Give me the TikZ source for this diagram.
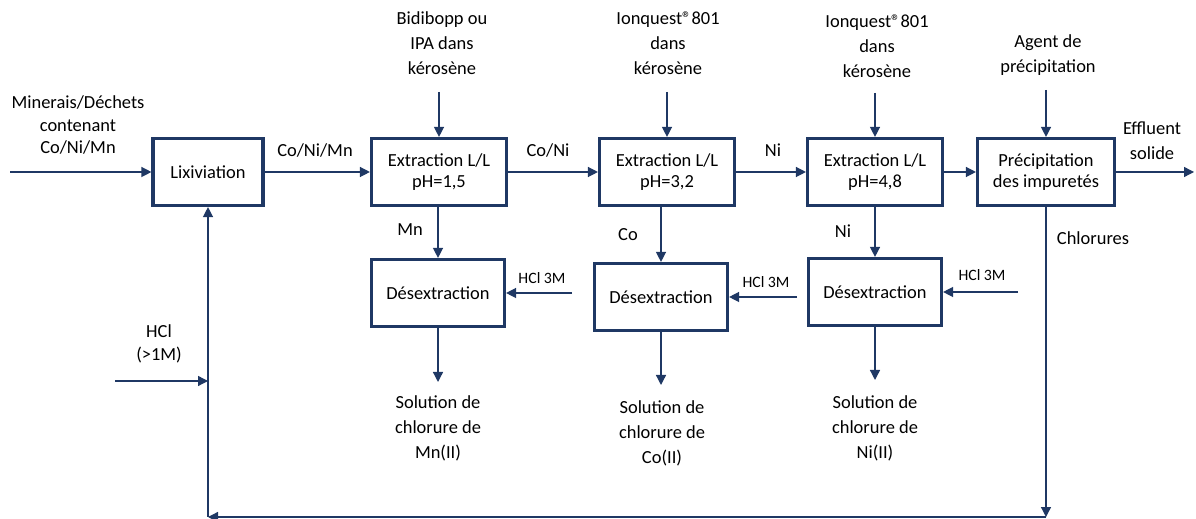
\documentclass[tikz,border=0pt]{standalone}
\usepackage{fontspec}
\setmainfont{Carlito}
\usetikzlibrary{arrows.meta}
\definecolor{navy}{RGB}{31,56,100}
\begin{document}
\begin{tikzpicture}[
  x=0.02cm, y=-0.02cm,
  box/.style={draw=navy, line width=1.8pt, align=center, minimum width=2.7cm, minimum height=1.34cm, font=\fontsize{10.5}{12}\selectfont},
  lbl/.style={align=center, inner sep=0pt, font=\fontsize{10.5}{14.2}\selectfont},
  acid/.style={inner sep=0pt, font=\fontsize{9}{11}\selectfont},
  arrow/.style={-{Triangle[length=0.2cm,width=0.2cm]}, navy, line width=0.75pt}
]
\useasboundingbox (0,0) rectangle (1196,519);

\node[box, minimum width=2.2cm] at (208,172) (lix) {Lixiviation};
\node[box] at (439,172) (ext1) {Extraction L/L\\pH=1,5};
\node[box] at (667,172) (ext2) {Extraction L/L\\pH=3,2};
\node[box] at (875,172) (ext3) {Extraction L/L\\pH=4,8};
\node[box, minimum width=2.74cm] at (1046,172) (prec) {Précipitation\\des impuretés};
\node[box, minimum width=2.66cm] at (438,293) (des1) {Désextraction};
\node[box, minimum width=2.66cm] at (661,297) (des2) {Désextraction};
\node[box, minimum width=2.66cm] at (875,292) (des3) {Désextraction};

\node[lbl, font=\fontsize{10.5}{12.8}\selectfont] at (78,125) (feedtxt) {Minerais/Déchets\\contenant\\Co/Ni/Mn};
\node[lbl] at (442,43) (org1) {Bidibopp ou\\IPA dans\\kérosène};
\node[lbl] at (668,43) (org2) {Ionquest®801\\dans\\kérosène};
\node[lbl] at (877,46) (org3) {Ionquest®801\\dans\\kérosène};
\node[lbl] at (1048,55) (agent) {Agent de\\précipitation};
\node[lbl] at (1152,141) (efftxt) {Effluent\\solide};
\node[lbl] at (1093,238) (chlor) {Chlorures};
\node[lbl] at (315,150) (f1) {Co/Ni/Mn};
\node[lbl] at (548,150) (f2) {Co/Ni};
\node[lbl] at (773,150) (f3) {Ni};
\node[lbl] at (410,230) (m1) {Mn};
\node[lbl] at (628,235) (m2) {Co};
\node[lbl] at (843,231) (m3) {Ni};
\node[acid] at (542,278) (a1) {HCl 3M};
\node[acid] at (766,282) (a2) {HCl 3M};
\node[acid] at (982,275) (a3) {HCl 3M};
\node[lbl] at (438,428) (sol1) {Solution de\\chlorure de\\Mn(II)};
\node[lbl] at (662,433) (sol2) {Solution de\\chlorure de\\Co(II)};
\node[lbl] at (875,428) (sol3) {Solution de\\chlorure de\\Ni(II)};
\node[lbl, font=\fontsize{10.5}{13.5}\selectfont] at (159,344) (hcltxt) {HCl\\(>1M)};

\coordinate (feed) at (10,172);
\coordinate (eff) at (1194,172);
\coordinate (r1) at (439,92);
\coordinate (r2) at (667,92);
\coordinate (r3) at (875,93);
\coordinate (r4) at (1046,90);
\coordinate (h1) at (572,293);
\coordinate (h2) at (797,297);
\coordinate (h3) at (1018,292);
\coordinate (o1) at (438,382);
\coordinate (o2) at (661,385);
\coordinate (o3) at (875,380);
\coordinate (c1) at (1046,517);
\coordinate (c2) at (208,517);
\coordinate (hin) at (115,381);
\coordinate (hout) at (208,381);

\draw[arrow] (feed) -- (lix);
\draw[arrow] (lix) -- (ext1);
\draw[arrow] (ext1) -- (ext2);
\draw[arrow] (ext2) -- (ext3);
\draw[arrow] (ext3) -- (prec);
\draw[arrow] (prec) -- (eff);
\draw[arrow] (r1) -- (ext1);
\draw[arrow] (r2) -- (ext2);
\draw[arrow] (r3) -- (ext3);
\draw[arrow] (r4) -- (prec);
\draw[arrow] (ext1.south -| des1) -- (des1);
\draw[arrow] (ext2.south -| des2) -- (des2);
\draw[arrow] (ext3) -- (des3);
\draw[arrow] (h1) -- (des1);
\draw[arrow] (h2) -- (des2);
\draw[arrow] (h3) -- (des3);
\draw[arrow] (des1) -- (o1);
\draw[arrow] (des2) -- (o2);
\draw[arrow] (des3) -- (o3);
\draw[arrow] (prec) -- (c1);
\draw[arrow] (c1) -- (c2);
\draw[arrow] (c2) -- (lix);
\draw[arrow] (hin) -- (hout);
\end{tikzpicture}
\end{document}
